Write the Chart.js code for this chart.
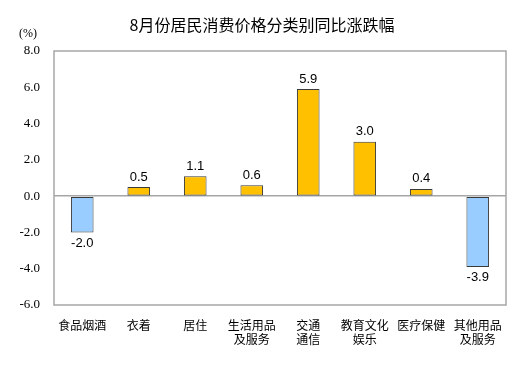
<!DOCTYPE html>
<html lang="zh">
<head>
    <meta charset="UTF-8">
    <title>8月份居民消费价格分类别同比涨跌幅</title>
    <script src="https://cdn.jsdelivr.net/npm/chart.js"></script>
    <style>
        html, body { margin: 0; padding: 0; background: #fff; }
        #wrap { width: 528px; height: 367px; position: relative; }
    </style>
</head>
<body>
    <div id="wrap"><canvas id="cpiChart"></canvas></div>

    <script>
        // Data
        const categories = ['食品烟酒', '衣着', '居住', ['生活用品', '及服务'], ['交通', '通信'], ['教育文化', '娱乐'], '医疗保健', ['其他用品', '及服务']];
        const yoyChange = [-2.0, 0.5, 1.1, 0.6, 5.9, 3.0, 0.4, -3.9];
        const yTicks = [-6, -4, -2, 0, 2, 4, 6, 8];

        const titleText = '8月份居民消费价格分类别同比涨跌幅';
        const unitText = '(%)';

        const upColor = '#FFC000';
        const downColor = '#99CCFF';
        const serifFont = '"Liberation Serif", serif';

        // Frame, title, unit and value labels
        const decorations = {
            id: 'decorations',
            afterDatasetsDraw(chart) {
                const { ctx, chartArea } = chart;
                ctx.save();
                ctx.strokeStyle = '#A6A6A6';
                ctx.lineWidth = 1.5;
                ctx.strokeRect(chartArea.left, chartArea.top, chartArea.right - chartArea.left, chartArea.bottom - chartArea.top);

                ctx.fillStyle = '#000';
                ctx.textAlign = 'center';
                ctx.textBaseline = 'middle';
                ctx.font = '16px "Noto Sans CJK SC"';
                ctx.fillText(titleText, 262, 25);

                ctx.font = '12px ' + serifFont;
                ctx.fillText(unitText, 28, 34);

                ctx.font = '13px "Liberation Sans", sans-serif';
                const meta = chart.getDatasetMeta(0);
                meta.data.forEach((bar, i) => {
                    const v = yoyChange[i];
                    const y = v >= 0 ? bar.y - 10 : bar.y + 11;
                    ctx.fillText(v.toFixed(1), bar.x, y);
                });
                ctx.restore();
            }
        };

        new Chart(document.getElementById('cpiChart'), {
            type: 'bar',
            data: {
                labels: categories,
                datasets: [{
                    data: yoyChange,
                    backgroundColor: yoyChange.map(v => v >= 0 ? upColor : downColor),
                    borderColor: '#3A3A3A',
                    borderWidth: 1,
                    borderSkipped: false,
                    barPercentage: 0.4,
                    categoryPercentage: 1
                }]
            },
            options: {
                responsive: true,
                maintainAspectRatio: false,
                animation: false,
                layout: { padding: { top: 51, right: 22, left: 0, bottom: 0 } },
                plugins: {
                    legend: { display: false },
                    tooltip: { enabled: false }
                },
                scales: {
                    x: {
                        grid: { display: false },
                        border: { display: false },
                        ticks: {
                            color: '#000',
                            padding: 6,
                            maxRotation: 0,
                            autoSkip: false,
                            font: { family: '"Noto Sans CJK SC"', size: 12, lineHeight: 1.15 }
                        },
                        afterFit(scale) { scale.height = 62; }
                    },
                    y: {
                        min: -6,
                        max: 8,
                        afterBuildTicks(scale) { scale.ticks = yTicks.map(v => ({ value: v })); },
                        border: { display: false },
                        grid: {
                            drawTicks: false,
                            color: ctx => ctx.tick && ctx.tick.value === 0 ? '#A6A6A6' : 'rgba(0,0,0,0)',
                            lineWidth: 1.5
                        },
                        ticks: {
                            color: '#000',
                            padding: 14,
                            font: { family: serifFont, size: 13 },
                            callback: v => v.toFixed(1)
                        },
                        afterFit(scale) { scale.width = 54; }
                    }
                }
            },
            plugins: [decorations]
        });
    </script>
</body>
</html>
